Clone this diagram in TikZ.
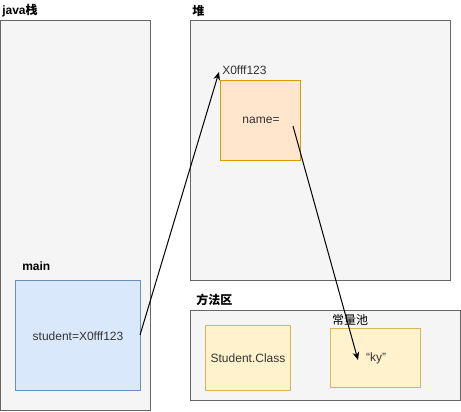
\documentclass[tikz,border=0pt]{standalone}
\usepackage{fontspec}
\setmainfont{Liberation Sans}
\newfontfamily\cjk{Noto Sans CJK SC}
\usetikzlibrary{arrows.meta}
\definecolor{grayfill}{HTML}{F5F5F5}
\definecolor{graystroke}{HTML}{666666}
\definecolor{txt}{HTML}{333333}
\definecolor{orfill}{HTML}{FFE6CC}
\definecolor{orstroke}{HTML}{D79B00}
\definecolor{yefill}{HTML}{FFF2CC}
\definecolor{yestroke}{HTML}{D6B656}
\definecolor{blfill}{HTML}{DAE8FC}
\definecolor{blstroke}{HTML}{6C8EBF}
\tikzset{
  region/.style={draw=graystroke, fill=grayfill, line width=0.75pt},
  orbox/.style={draw=orstroke, fill=orfill, line width=0.75pt},
  yebox/.style={draw=yestroke, fill=yefill, line width=0.75pt},
  blbox/.style={draw=blstroke, fill=blfill, line width=0.75pt},
  lbl/.style={inner sep=0pt, font=\fontsize{9pt}{11pt}\selectfont},
  blbl/.style={inner sep=0pt, font=\fontsize{9pt}{11pt}\selectfont\bfseries},
  conn/.style={-{Stealth[length=6pt,width=5pt]}, line width=0.75pt, black},
}
\begin{document}
\begin{tikzpicture}[x=0.75pt,y=-0.75pt]
\useasboundingbox (0,0) rectangle (461,411);
% regions
\draw[region] (0,20) rectangle (150,410);
\draw[region] (190,20) rectangle (450,280);
\draw[region] (190,310) rectangle (460,400);
% labels
\node[blbl, anchor=west] (lstack) at (2,11) {java{\cjk 栈}};
\node[blbl, anchor=west] (lheap) at (192,11) {\cjk 堆};
\node[blbl, anchor=west] (lmeth) at (196,300) {\cjk 方法区};
\node[blbl, anchor=west] (lmain) at (22,266) {main};
\node[lbl, anchor=center] (lpool) at (350,320) {\cjk 常量池};
% boxes
\node[blbox, minimum width=125*0.75pt, minimum height=110*0.75pt, anchor=north west, inner sep=0pt] (mainbox) at (15,280) {};
\node[lbl, text=txt] (stud) at (78,336) {student=X0fff123};
\node[orbox, minimum width=80*0.75pt, minimum height=80*0.75pt, anchor=north west, inner sep=0pt] (obj) at (220,80) {};
\node[lbl, text=txt] (name) at (261,120) {name=};
\node[lbl, text=txt, anchor=west] (addr) at (222,70) {X0fff123};
\node[yebox, minimum width=85*0.75pt, minimum height=65*0.75pt, anchor=north west, inner sep=0pt, text=txt, font=\fontsize{9pt}{11pt}\selectfont] (cls) at (205,325) {Student.Class};
\node[yebox, minimum width=90*0.75pt, minimum height=59*0.75pt, anchor=north west, inner sep=0pt] (pool) at (330,328) {};
\node[lbl, text=txt] (ky) at (376,358) {“ky”};
% connectors
\coordinate (s1) at (140,335);
\coordinate (e1) at (219,72);
\coordinate (s2) at (293,126);
\coordinate (e2) at (358,360);
\draw[conn] (s1) -- (e1);
\draw[conn] (s2) -- (e2);
\end{tikzpicture}
\end{document}
